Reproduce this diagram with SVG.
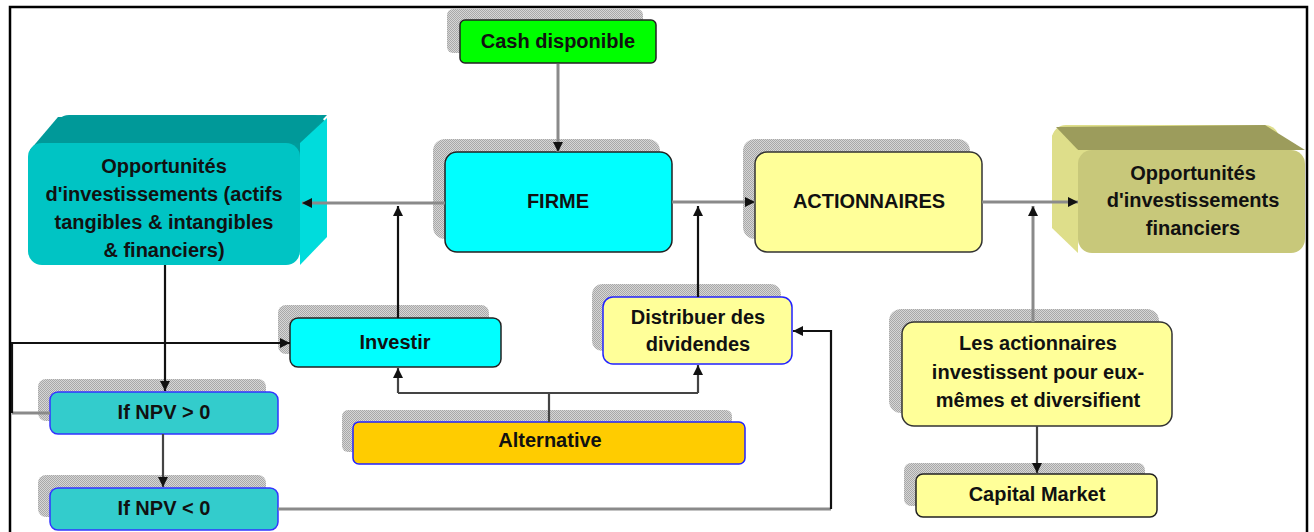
<svg xmlns="http://www.w3.org/2000/svg" width="1314" height="532" viewBox="0 0 1314 532">
<style>
text{font-family:"Liberation Sans",Arial,sans-serif;font-weight:bold;font-size:20px;fill:#111;text-anchor:middle}
.sh{fill:url(#dither)}
.g{fill:none;stroke:#8a8a8a;stroke-width:3}
.k{fill:none;stroke:#111;stroke-width:2.2}
.d{fill:none;stroke:#444;stroke-width:2.2}
</style>
<defs>
<pattern id="dither" width="2" height="2" patternUnits="userSpaceOnUse"><rect width="2" height="2" fill="#d6d6d6"/><rect width="1" height="1" fill="#a8a8a8"/><rect x="1" y="1" width="1" height="1" fill="#a8a8a8"/></pattern>
<marker id="ah" viewBox="0 0 10 10" refX="10" refY="5" markerWidth="10" markerHeight="10" markerUnits="userSpaceOnUse" orient="auto"><path d="M0,0 L10,5 L0,10 Z" fill="#111"/></marker>
</defs>
<rect width="1314" height="532" fill="#fff"/>
<rect x="10" y="7" width="1297" height="545" fill="none" stroke="#000" stroke-width="2.5"/>

<g id="cash">
<rect class="sh" x="447" y="9" width="196" height="44" rx="6"/>
<rect x="460" y="20" width="196" height="43" rx="5" fill="#00ff00" stroke="#222" stroke-width="1.5"/>
<text x="558" y="48">Cash disponible</text>
</g>

<g id="firme">
<rect class="sh" x="433" y="139" width="227" height="100" rx="12"/>
<rect x="445" y="152" width="227" height="100" rx="12" fill="#00ffff" stroke="#222" stroke-width="1.5"/>
<text x="558" y="208">FIRME</text>
</g>

<g id="actionnaires">
<rect class="sh" x="743" y="139" width="227" height="100" rx="12"/>
<rect x="755" y="152" width="227" height="100" rx="12" fill="#ffff99" stroke="#333" stroke-width="1.5"/>
<text x="869" y="208">ACTIONNAIRES</text>
</g>

<g id="opp-invest">
<rect x="55" y="115" width="272" height="122" rx="14" fill="#009c9c"/>
<polygon points="30,150 58,117 327,115 300,143" fill="#009999"/>
<polygon points="300,143 327,118 327,237 300,265" fill="#00dcdc"/>
<rect x="28" y="143" width="272" height="122" rx="14" fill="#00c4c4"/>
<text x="164" y="173">Opportunités</text>
<text x="164" y="201">d'investissements (actifs</text>
<text x="164" y="229">tangibles &amp; intangibles</text>
<text x="164" y="257">&amp; financiers)</text>
</g>

<g id="opp-fin">
<rect x="1052" y="125" width="227" height="103" rx="14" fill="#dede8a"/>
<polygon points="1078,150 1056,127 1265,125 1305,150" fill="#9c9c5c"/>
<polygon points="1052,135 1078,150 1078,253 1052,228" fill="#dede8a"/>
<rect x="1078" y="150" width="227" height="103" rx="14" fill="#c8c87a"/>
<text x="1193" y="180">Opportunités</text>
<text x="1193" y="207">d'investissements</text>
<text x="1193" y="235">financiers</text>
</g>

<g id="investir">
<rect class="sh" x="278" y="305" width="211" height="49" rx="8"/>
<rect x="290" y="318" width="211" height="49" rx="8" fill="#00ffff" stroke="#222" stroke-width="1.5"/>
<text x="395" y="349">Investir</text>
</g>

<g id="distribuer">
<rect class="sh" x="592" y="284" width="189" height="67" rx="10"/>
<rect x="603" y="297" width="189" height="67" rx="10" fill="#ffff99" stroke="#2222ff" stroke-width="1.5"/>
<text x="698" y="324">Distribuer des</text>
<text x="698" y="351">dividendes</text>
</g>

<g id="alternative">
<rect class="sh" x="342" y="410" width="390" height="42" rx="6"/>
<rect x="353" y="422" width="392" height="42" rx="6" fill="#ffcc00" stroke="#2222ff" stroke-width="1.5"/>
<text x="550" y="447">Alternative</text>
</g>

<g id="npv-pos">
<rect class="sh" x="38" y="379" width="228" height="42" rx="8"/>
<rect x="50" y="392" width="228" height="42" rx="8" fill="#33cccc" stroke="#3333ff" stroke-width="1.5"/>
<text x="164" y="419">If NPV &gt; 0</text>
</g>

<g id="npv-neg">
<rect class="sh" x="38" y="475" width="228" height="42" rx="8"/>
<rect x="50" y="488" width="228" height="42" rx="8" fill="#33cccc" stroke="#3333ff" stroke-width="1.5"/>
<text x="164" y="515">If NPV &lt; 0</text>
</g>

<g id="les-actionnaires">
<rect class="sh" x="889" y="309" width="270" height="104" rx="12"/>
<rect x="902" y="322" width="270" height="104" rx="12" fill="#ffff99" stroke="#333" stroke-width="1.5"/>
<text x="1038" y="350">Les actionnaires</text>
<text x="1038" y="379">investissent pour eux-</text>
<text x="1038" y="407">mêmes et diversifient</text>
</g>

<g id="capital">
<rect class="sh" x="904" y="463" width="241" height="43" rx="7"/>
<rect x="916" y="474" width="241" height="43" rx="7" fill="#ffff99" stroke="#222" stroke-width="1.5"/>
<text x="1037" y="501">Capital Market</text>
</g>

<g id="connectors">
<path class="g" d="M558,64 V152" marker-end="url(#ah)"/>
<path class="g" d="M445,203 H302" marker-end="url(#ah)"/>
<path class="k" d="M398,318 V206" marker-end="url(#ah)"/>
<path class="g" d="M672,202 H755" marker-end="url(#ah)"/>
<path class="k" d="M698,297 V206" marker-end="url(#ah)"/>
<path class="g" d="M982,202 H1078" marker-end="url(#ah)"/>
<path class="g" d="M1033,322 V206" marker-end="url(#ah)"/>
<path class="k" d="M165,265 V391" marker-end="url(#ah)"/>
<path class="g" d="M50,413 H12"/>
<path class="k" d="M12,413 V343 H290" marker-end="url(#ah)"/>
<path class="d" d="M163,434 V487" marker-end="url(#ah)"/>
<path class="g" d="M278,509 H831"/>
<path class="k" d="M831,509 V331 H793" marker-end="url(#ah)"/>
<path class="d" d="M549,422 V393"/>
<path class="d" d="M398,393 H698"/>
<path class="d" d="M398,393 V368" marker-end="url(#ah)"/>
<path class="d" d="M698,393 V365" marker-end="url(#ah)"/>
<path class="d" d="M1037,426 V473" marker-end="url(#ah)"/>
</g>
</svg>
